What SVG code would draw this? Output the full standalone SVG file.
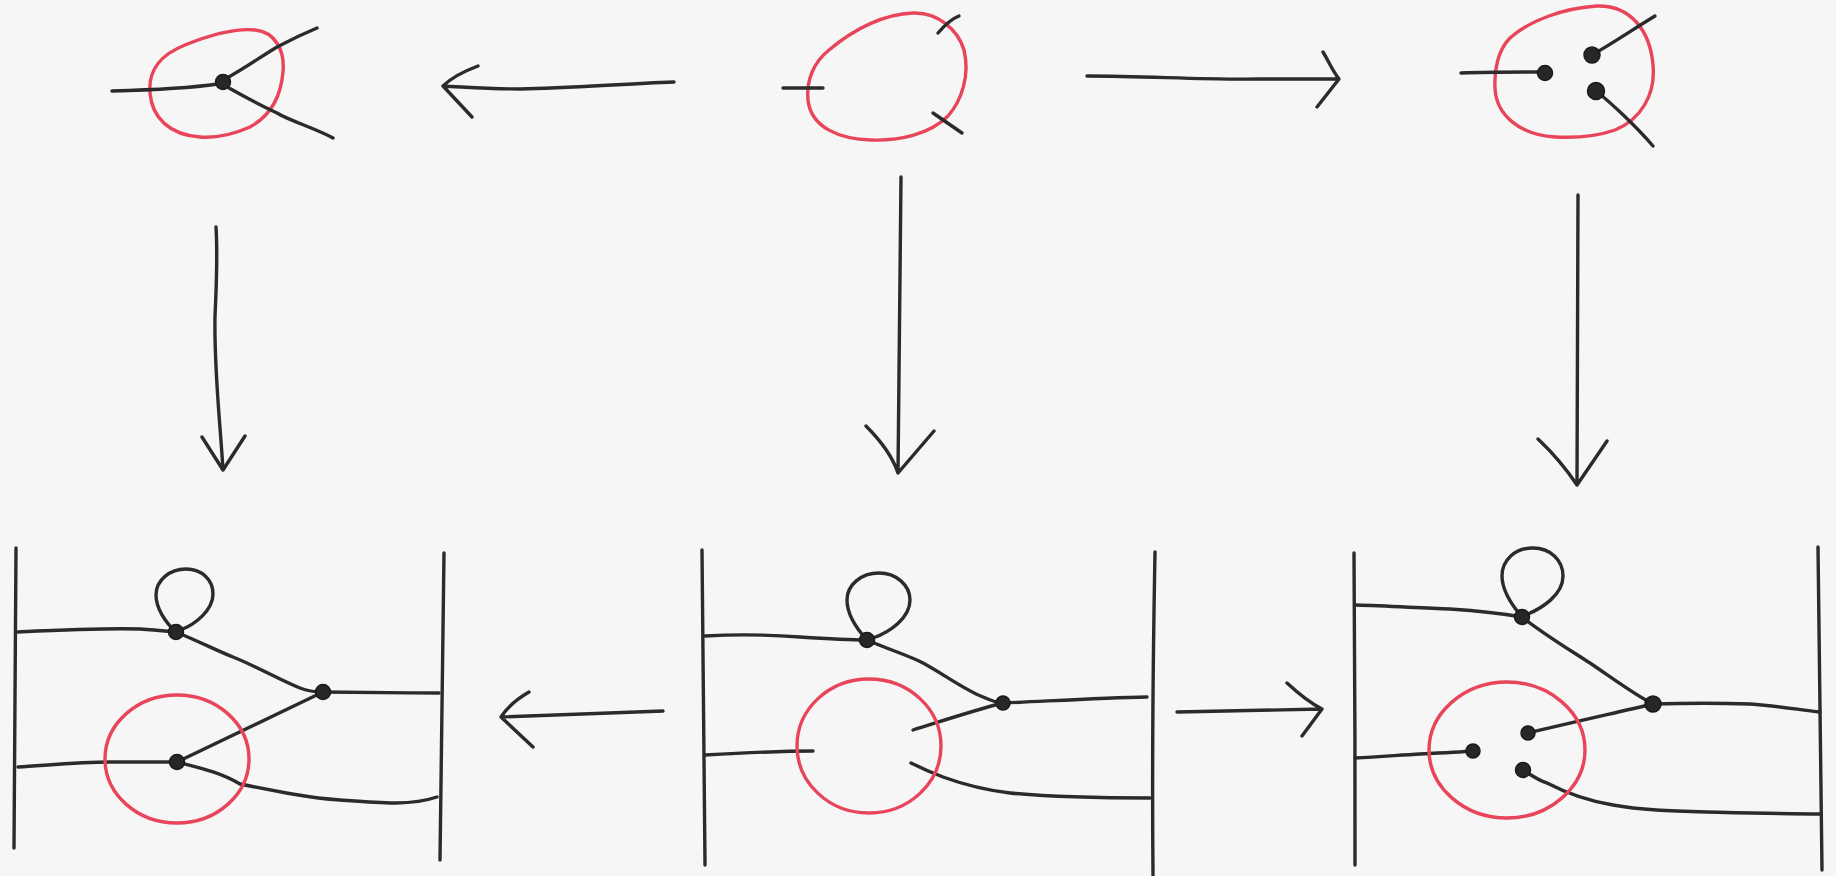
<svg xmlns="http://www.w3.org/2000/svg" width="1836" height="876" viewBox="0 0 1836 876">
  <style>
    .ink { fill: none; stroke: #2b2b2b; stroke-width: 3.4; stroke-linecap: round; stroke-linejoin: round; }
    .red { fill: none; stroke: #e8455a; stroke-width: 3.4; stroke-linecap: round; }
    .dot { fill: #272727; stroke: #1a1a1a; stroke-width: 1.5; }
  </style>
  <rect width="1836" height="876" fill="#f6f6f6"/>

  <!-- top left: contracted vertex -->
  <g id="top-left">
    <path class="red" d="M150,93 C148,70 160,55 185,45 C210,35 235,28 255,30 C275,32 285,50 283,72 C281,95 272,115 250,127 C232,135 215,138 200,137 C170,135 152,118 150,93 Z"/>
    <path class="ink" d="M112,91 C150,90 190,88 218,84"/>
    <path class="ink" d="M227,78 C245,68 262,56 277,47 C292,39 305,33 317,28"/>
    <path class="ink" d="M229,88 C245,97 262,106 277,113 C290,121 315,128 333,138"/>
    <circle class="dot" cx="223" cy="82" r="7.5"/>
  </g>

  <!-- top middle: region with three cut edges -->
  <g id="top-middle">
    <path class="red" d="M808,100 C806,80 814,62 829,50 C855,28 885,14 913,13 C938,12 958,30 964,50 C970,75 962,100 948,116 C930,134 900,141 871,140 C840,139 811,128 808,100 Z"/>
    <path class="ink" d="M783,88 L823,88"/>
    <path class="ink" d="M938,33 C944,26 951,19 959,16"/>
    <path class="ink" d="M933,113 L962,133"/>
  </g>

  <!-- top right: three separate endpoints -->
  <g id="top-right">
    <path class="red" d="M1495,88 C1494,70 1498,50 1510,38 C1530,20 1565,8 1597,6 C1630,5 1650,30 1653,65 C1656,95 1640,120 1615,130 C1595,137 1575,138 1555,137 C1520,135 1496,115 1495,88 Z"/>
    <path class="ink" d="M1461,73 C1490,72 1520,72 1545,72"/>
    <path class="ink" d="M1592,55 C1615,42 1635,28 1655,16"/>
    <path class="ink" d="M1596,91 C1610,102 1635,125 1653,146"/>
    <circle class="dot" cx="1545" cy="73" r="7.5"/>
    <circle class="dot" cx="1592" cy="55" r="8"/>
    <circle class="dot" cx="1596" cy="91" r="8.5"/>
  </g>

  <!-- bottom left: graph with vertex contracted -->
  <g id="bottom-left">
    <path class="ink" d="M16,548 C15,650 15,750 14,848"/>
    <path class="ink" d="M444,553 C442,660 441,760 440,860"/>
    <path class="ink" d="M176,632 C165,622 156,608 156,595 C156,580 170,569 186,569 C202,569 213,580 213,594 C213,610 195,625 180,630"/>
    <path class="ink" d="M18,632 C60,630 100,628 140,629 C155,630 165,631 176,632"/>
    <path class="ink" d="M176,632 C200,642 220,652 233,657 C260,668 280,680 300,688 C310,692 316,692 323,692"/>
    <path class="ink" d="M323,692 C360,692 400,693 439,693"/>
    <path class="ink" d="M323,692 L177,762"/>
    <path class="ink" d="M18,767 C50,765 80,762 110,762 C140,762 160,762 177,762"/>
    <path class="ink" d="M177,762 C200,768 220,772 240,784 C280,792 310,798 340,800 C380,803 410,806 437,797"/>
    <path class="red" d="M105,759 C105,724 137,695 177,695 C217,695 249,724 249,759 C249,794 217,823 177,823 C137,823 105,794 105,759 Z"/>
    <circle class="dot" cx="176" cy="632" r="7.5"/>
    <circle class="dot" cx="323" cy="692" r="7.5"/>
    <circle class="dot" cx="177" cy="762" r="7.5"/>
  </g>

  <!-- bottom middle: graph with region cut open -->
  <g id="bottom-middle">
    <path class="ink" d="M702,550 C703,650 704,760 705,865"/>
    <path class="ink" d="M1155,552 C1153,660 1152,770 1153,875"/>
    <path class="ink" d="M867,640 C856,628 847,615 847,600 C847,585 861,573 879,573 C896,573 910,585 910,600 C910,618 890,632 873,638"/>
    <path class="ink" d="M705,636 C740,634 773,635 800,637 C830,639 850,640 867,640"/>
    <path class="ink" d="M867,640 C890,650 910,656 923,663 C945,675 965,690 983,697 C992,701 998,703 1003,703"/>
    <path class="ink" d="M1003,703 C1050,701 1100,698 1147,697"/>
    <path class="ink" d="M1003,703 C975,710 945,720 913,730"/>
    <path class="ink" d="M705,755 C740,753 780,751 813,751"/>
    <path class="ink" d="M911,763 C925,770 935,774 943,777 C965,785 985,790 1010,793 C1060,798 1110,798 1150,798"/>
    <path class="red" d="M797,746 C797,709 829,679 869,679 C909,679 941,709 941,746 C941,783 909,813 869,813 C829,813 797,783 797,746 Z"/>
    <circle class="dot" cx="867" cy="640" r="7.5"/>
    <circle class="dot" cx="1003" cy="703" r="7"/>
  </g>

  <!-- bottom right: graph with vertex split -->
  <g id="bottom-right">
    <path class="ink" d="M1354,553 C1355,660 1355,760 1355,865"/>
    <path class="ink" d="M1818,547 C1820,650 1821,760 1822,870"/>
    <path class="ink" d="M1522,617 C1510,603 1502,590 1502,576 C1502,560 1515,548 1533,548 C1550,548 1563,560 1563,576 C1563,595 1542,608 1528,614"/>
    <path class="ink" d="M1356,605 C1390,606 1420,608 1450,609 C1480,611 1505,614 1522,617"/>
    <path class="ink" d="M1522,617 C1545,635 1570,650 1590,663 C1615,680 1635,695 1653,704"/>
    <path class="ink" d="M1653,704 C1690,703 1720,703 1750,704 C1780,706 1800,710 1820,712"/>
    <path class="ink" d="M1653,704 C1610,714 1565,724 1528,733"/>
    <path class="ink" d="M1355,758 C1380,757 1400,755 1420,754 C1440,753 1460,752 1473,751"/>
    <path class="ink" d="M1523,770 C1535,778 1540,781 1547,783 C1570,795 1595,802 1613,805 C1640,810 1670,811 1707,812 C1750,813 1790,814 1820,814"/>
    <path class="red" d="M1429,750 C1429,713 1464,682 1507,682 C1550,682 1585,713 1585,750 C1585,787 1550,818 1507,818 C1464,818 1429,787 1429,750 Z"/>
    <circle class="dot" cx="1522" cy="617" r="7.5"/>
    <circle class="dot" cx="1653" cy="704" r="8"/>
    <circle class="dot" cx="1528" cy="733" r="7"/>
    <circle class="dot" cx="1473" cy="751" r="7"/>
    <circle class="dot" cx="1523" cy="770" r="7.5"/>
  </g>

  <!-- arrows between the stages -->
  <g id="connectors">
    <path class="ink" d="M674,82 C620,84 570,88 520,89 C490,89 465,87 443,86 M478,66 C462,72 450,79 443,86 L472,117"/>
    <path class="ink" d="M1087,76 C1150,76 1200,80 1260,79 C1300,79 1325,79 1339,79 M1323,52 C1328,60 1332,70 1339,79 L1317,107"/>
    <path class="ink" d="M216,227 C218,260 216,290 215,317 C214,370 220,420 223,470 M202,437 L223,470 L245,436"/>
    <path class="ink" d="M901,177 C900,280 899,380 898,473 M866,426 C880,440 892,455 898,473 L934,431"/>
    <path class="ink" d="M1578,195 C1578,290 1577,390 1577,485 M1538,439 C1555,455 1567,470 1577,485 L1607,441"/>
    <path class="ink" d="M663,711 C600,713 550,715 501,717 M529,692 C515,700 507,708 501,717 L533,747"/>
    <path class="ink" d="M1177,712 C1230,711 1280,710 1322,709 M1287,683 C1300,695 1310,703 1322,709 L1302,736"/>
  </g>
</svg>
